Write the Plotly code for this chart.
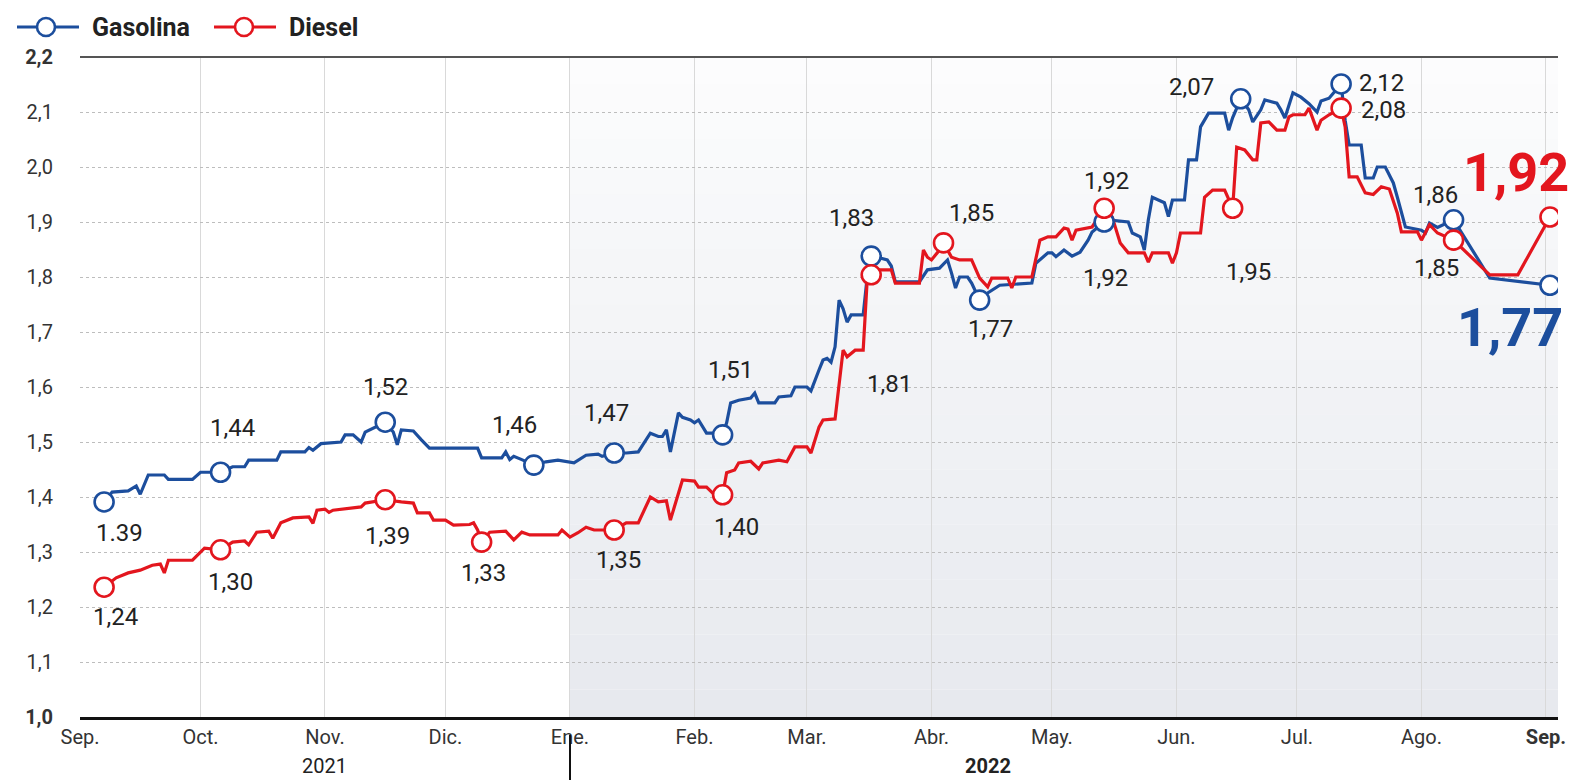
import plotly.graph_objects as go

# ---------------- DATA ----------------
gas_dates = [
    "2021-09-07","2021-09-09","2021-09-13","2021-09-15","2021-09-16","2021-09-18","2021-09-22","2021-09-23",
    "2021-09-29","2021-10-01","2021-10-06","2021-10-09","2021-10-12","2021-10-13","2021-10-20","2021-10-21",
    "2021-10-27","2021-10-28","2021-10-29","2021-10-31","2021-11-05","2021-11-06","2021-11-08","2021-11-10",
    "2021-11-11","2021-11-13","2021-11-16","2021-11-18","2021-11-19","2021-11-20","2021-11-23","2021-11-25",
    "2021-11-27","2021-12-09","2021-12-10","2021-12-15","2021-12-16","2021-12-17","2021-12-18","2021-12-20",
    "2021-12-23","2021-12-26","2021-12-29","2022-01-02","2022-01-03","2022-01-05","2022-01-08","2022-01-09",
    "2022-01-12","2022-01-15","2022-01-18","2022-01-21","2022-01-23","2022-01-24","2022-01-25","2022-01-26",
    "2022-01-28","2022-01-29","2022-01-31","2022-02-01","2022-02-02","2022-02-03","2022-02-04","2022-02-07",
    "2022-02-08","2022-02-09","2022-02-10","2022-02-12","2022-02-15","2022-02-16","2022-02-17","2022-02-21",
    "2022-02-22","2022-02-25","2022-02-26","2022-03-01","2022-03-02","2022-03-04","2022-03-05","2022-03-06",
    "2022-03-07","2022-03-08","2022-03-09","2022-03-10","2022-03-11","2022-03-12","2022-03-15","2022-03-16",
    "2022-03-17","2022-03-19","2022-03-21","2022-03-22","2022-03-23","2022-03-29","2022-03-31","2022-04-03",
    "2022-04-05","2022-04-06","2022-04-07","2022-04-08","2022-04-10","2022-04-11","2022-04-13","2022-04-15",
    "2022-04-16","2022-04-18","2022-04-26","2022-04-27","2022-04-30","2022-05-01","2022-05-02","2022-05-04",
    "2022-05-06","2022-05-08","2022-05-10","2022-05-11","2022-05-14","2022-05-15","2022-05-20","2022-05-21",
    "2022-05-23","2022-05-24","2022-05-25","2022-05-26","2022-05-29","2022-05-30","2022-05-31","2022-06-03",
    "2022-06-04","2022-06-06","2022-06-07","2022-06-09","2022-06-13","2022-06-14","2022-06-15","2022-06-17",
    "2022-06-19","2022-06-20","2022-06-22","2022-06-23","2022-06-26","2022-06-27","2022-06-28","2022-06-30",
    "2022-07-02","2022-07-04","2022-07-06","2022-07-07","2022-07-09","2022-07-12","2022-07-13","2022-07-14",
    "2022-07-17","2022-07-18","2022-07-20","2022-07-21","2022-07-23","2022-07-25","2022-07-26","2022-07-28",
    "2022-08-01","2022-08-02","2022-08-03","2022-08-05","2022-08-09","2022-08-18","2022-09-02",
]
gas_vals = [
    1.391,1.409,1.411,1.420,1.405,1.440,1.440,1.432,
    1.432,1.445,1.445,1.455,1.455,1.467,1.467,1.482,
    1.482,1.490,1.485,1.497,1.500,1.513,1.513,1.500,
    1.518,1.525,1.536,1.518,1.495,1.522,1.520,1.504,
    1.489,1.489,1.471,1.471,1.482,1.468,1.474,1.468,
    1.458,1.464,1.467,1.462,1.467,1.476,1.478,1.474,
    1.480,1.480,1.482,1.516,1.510,1.510,1.522,1.482,
    1.553,1.545,1.540,1.535,1.540,1.528,1.516,1.516,
    1.513,1.535,1.571,1.576,1.580,1.589,1.571,1.571,
    1.582,1.584,1.600,1.600,1.593,1.631,1.649,1.652,
    1.645,1.673,1.758,1.742,1.718,1.731,1.731,1.800,
    1.838,1.835,1.831,1.820,1.791,1.791,1.813,1.816,
    1.831,1.807,1.780,1.800,1.800,1.789,1.758,1.771,
    1.776,1.785,1.789,1.825,1.844,1.844,1.837,1.849,
    1.838,1.845,1.867,1.882,1.900,1.904,1.900,1.880,
    1.873,1.849,1.904,1.945,1.935,1.910,1.940,1.940,
    2.013,2.013,2.073,2.098,2.098,2.067,2.090,2.124,
    2.104,2.082,2.104,2.122,2.116,2.104,2.089,2.135,
    2.127,2.115,2.100,2.120,2.125,2.151,2.085,2.040,
    2.040,1.980,1.980,2.000,2.000,1.971,1.945,1.891,
    1.885,1.880,1.898,1.890,1.904,1.798,1.785,
]

die_dates = [
    "2021-09-07","2021-09-10","2021-09-13","2021-09-16","2021-09-19","2021-09-21","2021-09-22","2021-09-23",
    "2021-09-29","2021-10-02","2021-10-06","2021-10-09","2021-10-12","2021-10-13","2021-10-15","2021-10-18",
    "2021-10-19","2021-10-21","2021-10-24","2021-10-28","2021-10-29","2021-10-30","2021-11-01","2021-11-02",
    "2021-11-03","2021-11-10","2021-11-11","2021-11-16","2021-11-20","2021-11-23","2021-11-24","2021-11-27",
    "2021-11-28","2021-12-01","2021-12-03","2021-12-07","2021-12-08","2021-12-09","2021-12-10","2021-12-12",
    "2021-12-16","2021-12-18","2021-12-20","2021-12-22","2021-12-29","2021-12-30","2022-01-01","2022-01-03",
    "2022-01-05","2022-01-07","2022-01-12","2022-01-15","2022-01-18","2022-01-21","2022-01-23","2022-01-25",
    "2022-01-26","2022-01-29","2022-02-01","2022-02-02","2022-02-04","2022-02-06","2022-02-08","2022-02-09",
    "2022-02-11","2022-02-12","2022-02-15","2022-02-17","2022-02-18","2022-02-22","2022-02-24","2022-02-26",
    "2022-03-01","2022-03-02","2022-03-04","2022-03-05","2022-03-08","2022-03-09","2022-03-10","2022-03-11",
    "2022-03-13","2022-03-15","2022-03-16","2022-03-17","2022-03-19","2022-03-22","2022-03-23","2022-03-29",
    "2022-03-30","2022-03-31","2022-04-01","2022-04-03","2022-04-04","2022-04-06","2022-04-08","2022-04-11",
    "2022-04-13","2022-04-15","2022-04-16","2022-04-20","2022-04-21","2022-04-22","2022-04-26","2022-04-28",
    "2022-04-30","2022-05-02","2022-05-04","2022-05-05","2022-05-06","2022-05-07","2022-05-10","2022-05-11",
    "2022-05-14","2022-05-16","2022-05-18","2022-05-19","2022-05-20","2022-05-24","2022-05-25","2022-05-26",
    "2022-05-30","2022-05-31","2022-06-01","2022-06-02","2022-06-07","2022-06-08","2022-06-10","2022-06-13",
    "2022-06-15","2022-06-16","2022-06-18","2022-06-20","2022-06-21","2022-06-22","2022-06-24","2022-06-26",
    "2022-06-28","2022-06-29","2022-06-30","2022-07-03","2022-07-04","2022-07-06","2022-07-07","2022-07-09",
    "2022-07-12","2022-07-13","2022-07-14","2022-07-16","2022-07-18","2022-07-20","2022-07-22","2022-07-24",
    "2022-07-26","2022-07-27","2022-07-31","2022-08-01","2022-08-03","2022-08-05","2022-08-09","2022-08-18",
    "2022-08-25","2022-09-02",
]
die_vals = [
    1.236,1.253,1.262,1.267,1.276,1.278,1.262,1.285,
    1.285,1.307,1.304,1.318,1.320,1.313,1.336,1.338,
    1.325,1.353,1.362,1.364,1.352,1.376,1.378,1.372,
    1.376,1.382,1.389,1.395,1.391,1.389,1.371,1.371,
    1.358,1.358,1.349,1.350,1.353,1.340,1.318,1.336,
    1.338,1.322,1.336,1.331,1.331,1.340,1.327,1.335,
    1.345,1.340,1.340,1.353,1.353,1.400,1.391,1.393,
    1.358,1.431,1.429,1.418,1.418,1.404,1.404,1.444,
    1.449,1.462,1.465,1.451,1.462,1.467,1.464,1.491,
    1.491,1.480,1.527,1.540,1.542,1.600,1.667,1.655,
    1.667,1.667,1.795,1.804,1.813,1.813,1.789,1.789,
    1.849,1.836,1.831,1.849,1.862,1.836,1.831,1.831,
    1.798,1.782,1.798,1.798,1.780,1.800,1.800,1.867,
    1.873,1.873,1.889,1.887,1.867,1.885,1.889,1.891,
    1.925,1.909,1.862,1.853,1.844,1.844,1.827,1.844,
    1.844,1.825,1.844,1.880,1.880,1.945,1.958,1.958,
    1.925,2.036,2.031,2.013,2.013,2.080,2.082,2.067,
    2.067,2.091,2.095,2.095,2.107,2.067,2.085,2.095,
    2.107,2.073,1.982,1.982,1.953,1.950,1.964,1.960,
    1.916,1.882,1.882,1.867,1.895,1.880,1.867,1.804,
    1.804,1.909,
]

gas_mark_dates = ["2021-09-07","2021-10-06","2021-11-16","2021-12-23","2022-01-12","2022-02-08","2022-03-17",
                  "2022-04-13","2022-05-14","2022-06-17","2022-07-12","2022-08-09","2022-09-02"]
gas_mark_text = ["1.39","1,44","1,52","1,46","1,47","1,51","1,83","1,77","1,92","2,07","2,12","1,86","1,77"]

die_mark_dates = ["2021-09-07","2021-10-06","2021-11-16","2021-12-10","2022-01-12","2022-02-08","2022-03-17",
                  "2022-04-04","2022-05-14","2022-06-15","2022-07-12","2022-08-09","2022-09-02"]
die_mark_text = ["1,24","1,30","1,39","1,33","1,35","1,40","1,81","1,85","1,92","1,95","2,08","1,85","1,92"]

series_names = ["Gasolina", "Diesel"]
month_ticks = ["2021-09-01","2021-10-01","2021-11-01","2021-12-01","2022-01-01","2022-02-01","2022-03-01",
               "2022-04-01","2022-05-01","2022-06-01","2022-07-01","2022-08-01","2022-09-01"]
month_labels = ["Sep.","Oct.","Nov.","Dic.","Ene.","Feb.","Mar.","Abr.","May.","Jun.","Jul.","Ago.","<b>Sep.</b>"]
y_ticks = [1.0,1.1,1.2,1.3,1.4,1.5,1.6,1.7,1.8,1.9,2.0,2.1,2.2]
y_labels = ["<b>1,0</b>","1,1","1,2","1,3","1,4","1,5","1,6","1,7","1,8","1,9","2,0","2,1","<b>2,2</b>"]
year_labels = ["2021", "<b>2022</b>"]
year_pos = ["2021-11-01", "2022-04-15"]

# ---------------- STYLE ----------------
BLUE = "#1c4e9d"
RED = "#e3161e"
FONT = "Roboto"
W, H = 1573, 780
L, T, R, B = 80, 57, 15, 63
PW = W - L - R
PH = H - T - B

gas_off = [(15,-31),(12,44),(0,35),(-19,40),(-8,40),(8,65),(-20,38),(11,-29),(1,-56),(-49,12),(40,1),(-18,25),(-40,-42)]
die_off = [(11,-30),(10,-32),(2,-36),(2,-31),(4,-30),(14,-32),(18,-109),(28,30),(2,27),(16,-64),(42,-2),(-17,-28),(-34,45)]

gas_lookup = dict(zip(gas_dates, gas_vals))
die_lookup = dict(zip(die_dates, die_vals))
gas_mark_vals = [gas_lookup[d] for d in gas_mark_dates]
die_mark_vals = [die_lookup[d] for d in die_mark_dates]

fig = go.Figure()

# gradient shading for 2022
n_strips = 24
for i in range(n_strips):
    y0 = 1.0 + 1.2 * i / n_strips
    y1 = 1.0 + 1.2 * (i + 1) / n_strips
    alpha = 0.75 * (1 - i / n_strips) + 0.08
    fig.add_shape(type="rect", xref="x", yref="y", x0="2022-01-01", x1="2022-09-04",
                  y0=y0, y1=y1, fillcolor=f"rgba(226,229,235,{alpha:.3f})",
                  line=dict(width=0), layer="below")

fig.add_trace(go.Scatter(x=gas_dates, y=gas_vals, mode="lines", line=dict(color=BLUE, width=3.2),
                         name=series_names[0], showlegend=False, hoverinfo="skip"))
fig.add_trace(go.Scatter(x=die_dates, y=die_vals, mode="lines", line=dict(color=RED, width=3.2),
                         name=series_names[1], showlegend=False, hoverinfo="skip"))
fig.add_trace(go.Scatter(x=gas_mark_dates, y=gas_mark_vals, mode="markers",
                         marker=dict(size=19, color="white", line=dict(color=BLUE, width=2.6)),
                         showlegend=False))
fig.add_trace(go.Scatter(x=die_mark_dates, y=die_mark_vals, mode="markers",
                         marker=dict(size=19, color="white", line=dict(color=RED, width=2.6)),
                         showlegend=False))

# point labels
for i, (d, v, t) in enumerate(zip(gas_mark_dates, gas_mark_vals, gas_mark_text)):
    last = i == len(gas_mark_dates) - 1
    fig.add_annotation(x=d, y=v, text=f"<b>{t}</b>" if last else t, showarrow=False,
                       xshift=gas_off[i][0], yshift=gas_off[i][1],
                       font=dict(family=FONT, size=54 if last else 24, color=BLUE if last else "#222"))
for i, (d, v, t) in enumerate(zip(die_mark_dates, die_mark_vals, die_mark_text)):
    last = i == len(die_mark_dates) - 1
    fig.add_annotation(x=d, y=v, text=f"<b>{t}</b>" if last else t, showarrow=False,
                       xshift=die_off[i][0], yshift=die_off[i][1],
                       font=dict(family=FONT, size=54 if last else 24, color=RED if last else "#222"))

# custom legend (page pixels -> paper coords)
def px_x(px):
    return (px - L) / PW
def px_y(py):
    return (H - B - py) / PH

leg_y = px_y(27)
for (x0, x1, xc, xt, name, col) in [(17, 79, 46, 90, series_names[0], BLUE),
                                     (214, 276, 244, 287, series_names[1], RED)]:
    fig.add_shape(type="line", xref="paper", yref="paper", x0=px_x(x0), x1=px_x(x1), y0=leg_y, y1=leg_y,
                  line=dict(color=col, width=3))
    fig.add_shape(type="circle", xref="paper", yref="paper", xsizemode="pixel", ysizemode="pixel",
                  xanchor=px_x(xc), yanchor=leg_y, x0=-9, x1=9, y0=-9, y1=9,
                  fillcolor="white", line=dict(color=col, width=2.6))
    fig.add_annotation(x=px_x(xt), y=leg_y, xref="paper", yref="paper", text=f"<b>{name}</b>",
                       showarrow=False, xanchor="left", yanchor="middle",
                       font=dict(family=FONT, size=25, color="#222"))

# year labels and separator
for t, x in zip(year_labels, year_pos):
    fig.add_annotation(x=x, y=px_y(766), xref="x", yref="paper", text=t, showarrow=False,
                       font=dict(family=FONT, size=20, color="#222"), yanchor="middle")
fig.add_shape(type="line", xref="x", yref="paper", x0="2022-01-01", x1="2022-01-01",
              y0=px_y(735), y1=px_y(780), line=dict(color="#111", width=2))
# top border
fig.add_shape(type="line", xref="paper", yref="paper", x0=0, x1=1, y0=1, y1=1,
              line=dict(color="#555", width=2))

fig.update_layout(
    width=W, height=H,
    margin=dict(l=L, r=R, t=T, b=B, autoexpand=False),
    paper_bgcolor="white", plot_bgcolor="white",
    font=dict(family=FONT, size=20, color="#333"),
    separators=",.",
    showlegend=False,
    xaxis=dict(type="date", range=["2021-09-01", "2022-09-04"], tickvals=month_ticks, ticktext=month_labels,
               showgrid=True, gridcolor="#d9d9d9", gridwidth=1, showline=True, linecolor="#111", linewidth=3,
               ticks="", tickfont=dict(family=FONT, size=20, color="#333"), zeroline=False, automargin=False,
               ticklabeloverflow="allow"),
    yaxis=dict(range=[1.0, 2.2], tickvals=y_ticks, ticktext=y_labels, showgrid=True, gridcolor="#bdbdbd",
               griddash="dot", gridwidth=1, showline=False, ticks="", ticklabelstandoff=26,
               tickfont=dict(family=FONT, size=20, color="#333"), zeroline=False, automargin=False),
)

fig.write_html("out.html", config={"displayModeBar": False},
               post_script="document.body.style.margin='0';document.body.style.overflow='hidden';")
